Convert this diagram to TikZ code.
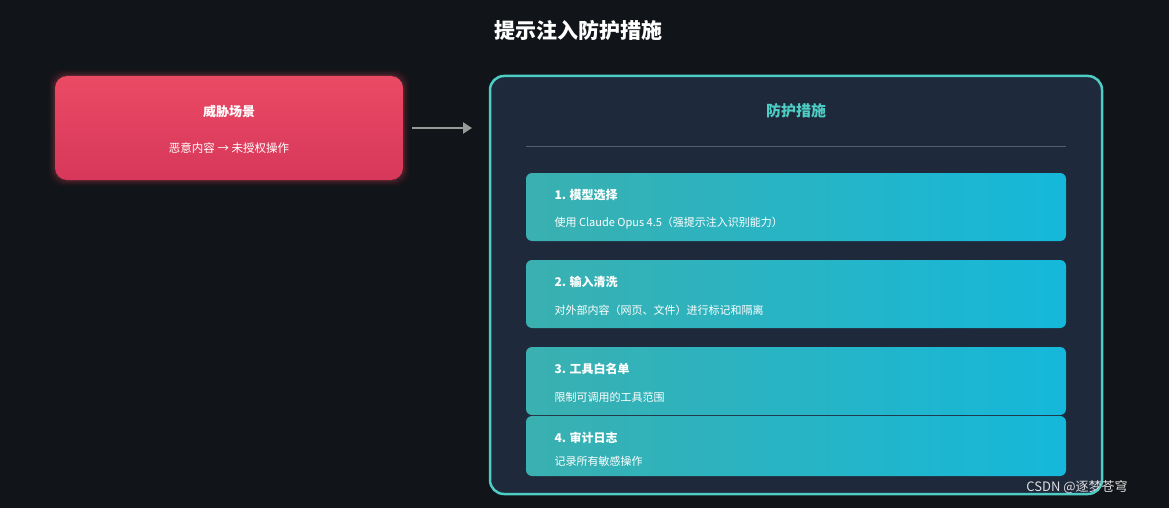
\documentclass[tikz,border=0pt]{standalone}
\usepackage{fontspec}
\setmainfont{Noto Sans CJK SC}
\usetikzlibrary{arrows.meta}
\definecolor{bg}{HTML}{111418}
\definecolor{redA}{HTML}{EB4A64}
\definecolor{redB}{HTML}{D7385A}
\definecolor{panel}{HTML}{1E293B}
\definecolor{teal}{HTML}{4ECDC4}
\definecolor{itA}{HTML}{3AB0B0}
\definecolor{itB}{HTML}{15B8DA}
\tikzset{
  itembox/.style={rounded corners=6pt, left color=itA, right color=itB, draw=none},
  ititle/.style={anchor=west, text=white, font=\bfseries\fontsize{12}{14}\selectfont},
  isub/.style={anchor=west, text=white, font=\fontsize{11}{13}\selectfont},
}
\begin{document}
\begin{tikzpicture}[x=1pt,y=-1pt]
\fill[bg] (0,0) rectangle (1169,508);
\useasboundingbox (0,0) rectangle (1169,508);
\node[text=white,font=\bfseries\fontsize{21}{24}\selectfont] (title) at (578,30) {提示注入防护措施};
% left box with glow
\foreach \i/\o in {6/0.05,4/0.08,2/0.12}{
  \fill[redA,opacity=\o,rounded corners=14pt] (55-\i,76-\i) rectangle (403+\i,180+\i);
}
\path[rounded corners=12pt, top color=redA, bottom color=redB] (55,76) rectangle (403,180);
\node (threat) at (229,128) {};
\node[text=white,font=\bfseries\fontsize{13}{15}\selectfont] (tt) at (229,112) {威胁场景};
\node[text=white,font=\fontsize{11.5}{13}\selectfont] (ts) at (229,148) {恶意内容 → 未授权操作};
% right panel
\draw[teal,line width=2.5pt,fill=panel,rounded corners=14pt] (490,76) rectangle (1102,494);
\node (panelL) at (490,128) {};
\coordinate (aS) at (412,128);
\coordinate (aE) at (472,128);
\draw[gray!80,line width=2.5pt,-{Triangle[length=9pt,width=11pt]}] (aS) -- (aE);
\node[text=teal,font=\bfseries\fontsize{15}{18}\selectfont] (pt) at (796,111) {防护措施};
\coordinate (d1) at (526,146); \coordinate (d2) at (1066,146);
\draw[white!25!panel,line width=0.8pt] (d1) -- (d2);
% items
\path[itembox] (526,173) rectangle (1066,241);
\node[ititle] (i1) at (551,195) {1. 模型选择};
\node[isub] (s1) at (551,223) {使用 Claude Opus 4.5（强提示注入识别能力）};
\path[itembox] (526,260) rectangle (1066,328);
\node[ititle] (i2) at (551,282) {2. 输入清洗};
\node[isub] (s2) at (551,310) {对外部内容（网页、文件）进行标记和隔离};
\path[itembox] (526,347) rectangle (1066,415);
\node[ititle] (i3) at (551,369) {3. 工具白名单};
\node[isub] (s3) at (551,397) {限制可调用的工具范围};
\path[itembox] (526,416) rectangle (1066,476);
\node[ititle] (i4) at (551,438) {4. 审计日志};
\node[isub] (s4) at (551,461) {记录所有敏感操作};
\node[text=white!75!gray,font=\fontsize{13}{15}\selectfont] (wm) at (1077,487) {CSDN @逐梦苍穹};
\end{tikzpicture}
\end{document}
